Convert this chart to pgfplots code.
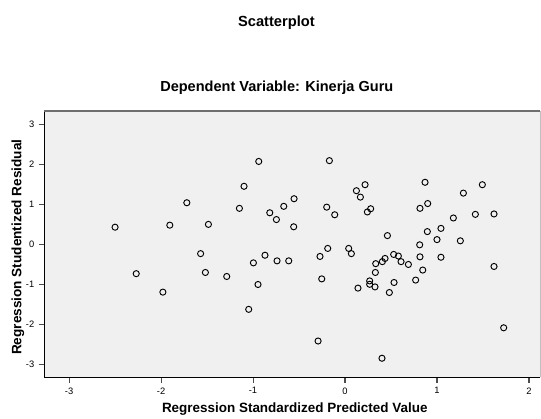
\documentclass[border=0pt]{standalone}
\usepackage{fontspec}
\setmainfont{Liberation Sans}
\usepackage{pgfplots}
\pgfplotsset{compat=1.18}
\definecolor{plotbg}{HTML}{F0F0F0}
\definecolor{topline}{HTML}{6E6E6E}
\begin{document}
\begin{tikzpicture}
\begin{axis}[
    at={(0,0)}, anchor=south west,
    scale only axis,
    width=372pt, height=200pt,
    xmin=-3.27, xmax=2.12,
    ymin=-3.32, ymax=3.33,
    xtick={-3,-2,-1,0,1,2},
    ytick={-3,-2,-1,0,1,2,3},
    axis x line*=bottom, axis y line*=left,
    x axis line style={-, black, line width=0.9pt},
    y axis line style={-, black, line width=0.9pt},
    tick align=outside,
    major tick length=4pt,
    tick style={black!70, line width=0.8pt},
    ticklabel style={font=\fontsize{7}{8}\selectfont},
    /pgf/number format/assume math mode=true,
    axis background/.style={fill=plotbg},
    clip=false,
]
\addplot[only marks, mark=o, mark size=2.3pt, line width=0.7pt, black] coordinates {
(-2.50,0.43) (-2.27,-0.73) (-1.98,-1.19) (-1.905,0.48) (-1.72,1.04)
(-1.57,-0.23) (-1.518,-0.70) (-1.485,0.50) (-1.286,-0.80) (-1.148,0.90)
(-1.098,1.45) (-1.047,-1.62) (-0.996,-0.46) (-0.946,-1.00) (-0.938,2.07)
(-0.87,-0.27) (-0.818,0.79) (-0.746,0.62) (-0.739,-0.41) (-0.666,0.95)
(-0.612,-0.41) (-0.554,1.14) (-0.558,0.44) (-0.293,-2.41) (-0.272,-0.30)
(-0.253,-0.86) (-0.199,0.93) (-0.188,-0.10) (-0.17,2.09) (-0.112,0.74)
(0.04,-0.10) (0.069,-0.23) (0.124,1.34) (0.141,-1.09) (0.167,1.18)
(0.218,1.49) (0.243,0.81) (0.268,-0.91) (0.268,-0.995) (0.279,0.89)
(0.326,-1.06) (0.33,-0.70) (0.334,-0.48) (0.402,-2.84) (0.406,-0.43)
(0.435,-0.35) (0.461,0.22) (0.482,-1.20) (0.529,-0.25) (0.533,-0.95)
(0.58,-0.29) (0.609,-0.43) (0.689,-0.50) (0.768,-0.89) (0.812,-0.01)
(0.815,0.90) (0.815,-0.31) (0.845,-0.64) (0.87,1.55) (0.895,0.32)
(0.899,1.02) (1.0,0.12) (1.043,0.40) (1.043,-0.32) (1.178,0.66)
(1.254,0.09) (1.287,1.28) (1.417,0.75) (1.493,1.49) (1.62,0.76)
(1.62,-0.55) (1.725,-2.08)
};
\draw[topline, line width=1.3pt] (rel axis cs:0,1) -- (rel axis cs:1,1);
\draw[black!25, line width=0.5pt] (rel axis cs:1,0) -- (rel axis cs:1,1);
\end{axis}
\node[font=\bfseries\fontsize{11}{13}\selectfont] at (174.2pt,266.5pt) {Scatterplot};
\node[font=\bfseries\fontsize{10.9}{13}\selectfont] at (174.5pt,217.7pt) {Dependent Variable: Kinerja Guru};
\node[font=\bfseries\fontsize{10.1}{12}\selectfont] at (188pt,-23.8pt) {Regression Standardized Predicted Value};
\node[font=\bfseries\fontsize{10.2}{12}\selectfont, rotate=90] at (-19.7pt,97.7pt) {Regression Studentized Residual};
\pgfresetboundingbox
\path[use as bounding box] (-33.2pt,-30.5pt) rectangle (372.75pt,283.25pt);
\end{tikzpicture}
\end{document}
